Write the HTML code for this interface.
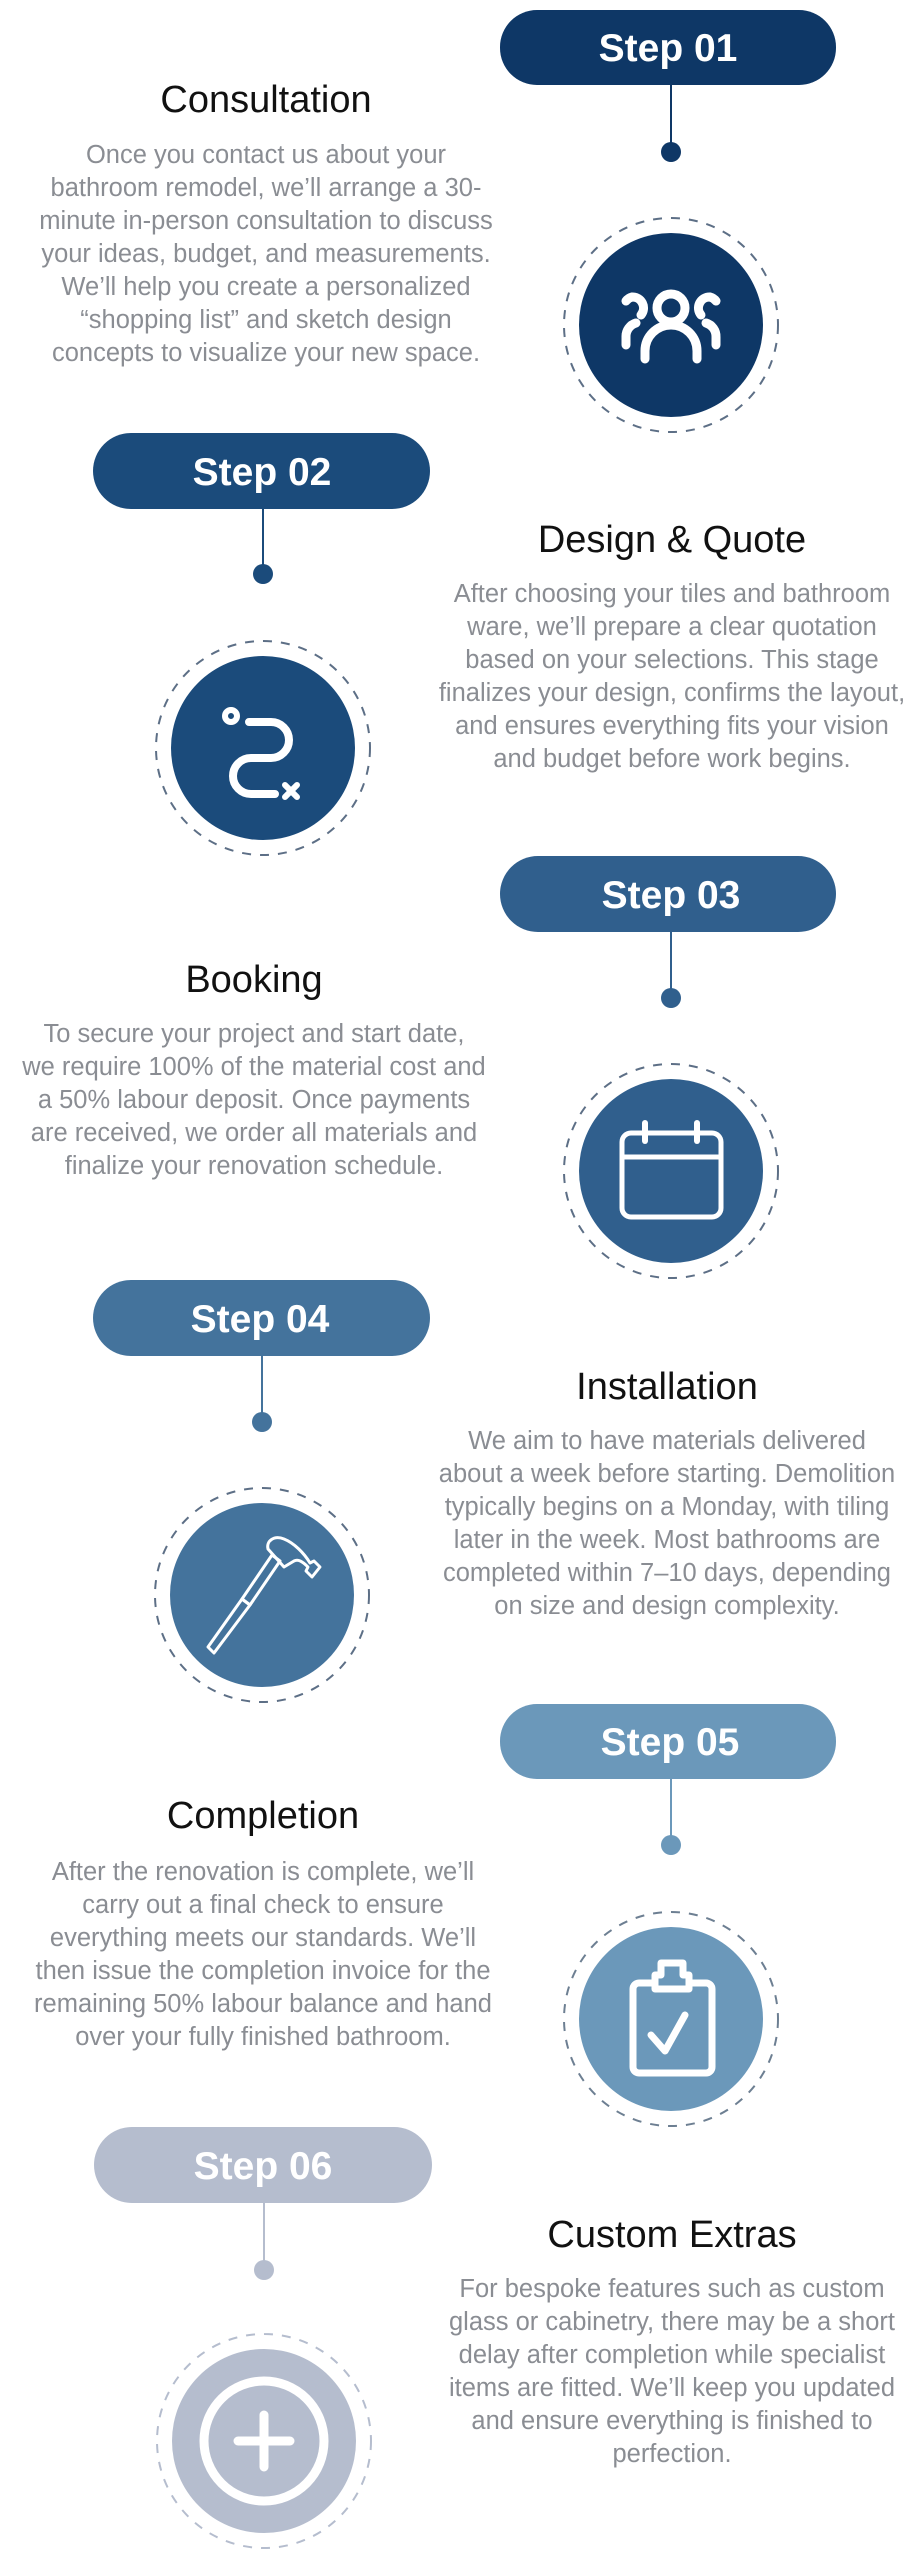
<!DOCTYPE html>
<html><head><meta charset="utf-8"><style>
html,body{margin:0;padding:0;background:#fff;}
svg{display:block;}
.t{font-family:"Liberation Sans",Arial,sans-serif;}
</style></head><body>
<svg width="913" height="2560" viewBox="0 0 913 2560" xmlns="http://www.w3.org/2000/svg" class="t">
<!-- STEP 1 -->
<g>
<rect x="500" y="10" width="336" height="75" rx="37" fill="#0e3766"/>
<text x="668" y="61" text-anchor="middle" font-weight="bold" font-size="39" fill="#fff">Step 01</text>
<line x1="671" y1="85" x2="671" y2="152" stroke="#0e3766" stroke-width="2"/>
<circle cx="671" cy="152" r="10" fill="#0e3766"/>
<circle cx="671" cy="325" r="107" fill="none" stroke="#5d6f86" stroke-width="2" stroke-dasharray="9 9"/>
<circle cx="671" cy="325" r="92" fill="#0e3766"/>
<g transform="translate(671,325)" fill="none" stroke="#fff" stroke-width="9" stroke-linecap="round">
<circle cx="0" cy="-17" r="14"/>
<path d="M-26,34 v-8 a26,26 0 0 1 52,0 v8"/>
<path d="M-30,-10 a11,11 0 0 0 -9,-18 a11,11 0 0 0 -6,4"/>
<path d="M-45,20 v-8 a14,14 0 0 1 10,-14"/>
<path d="M30,-10 a11,11 0 0 1 9,-18 a11,11 0 0 1 6,4"/>
<path d="M45,20 v-8 a14,14 0 0 0 -10,-14"/>
</g>
<text x="266" y="112" text-anchor="middle" font-size="38" fill="#111">Consultation</text>
<g font-size="25.5" fill="#8a8d93" text-anchor="middle">
<text x="266" y="163">Once you contact us about your</text>
<text x="266" y="196">bathroom remodel, we’ll arrange a 30-</text>
<text x="266" y="229">minute in-person consultation to discuss</text>
<text x="266" y="262">your ideas, budget, and measurements.</text>
<text x="266" y="295">We’ll help you create a personalized</text>
<text x="266" y="328">“shopping list” and sketch design</text>
<text x="266" y="361">concepts to visualize your new space.</text>
</g>
</g>
<!-- STEP 2 -->
<g>
<rect x="93" y="433" width="337" height="76" rx="38" fill="#1b4b7b"/>
<text x="262" y="485" text-anchor="middle" font-weight="bold" font-size="39" fill="#fff">Step 02</text>
<line x1="263" y1="509" x2="263" y2="574" stroke="#1b4b7b" stroke-width="2"/>
<circle cx="263" cy="574" r="10" fill="#1b4b7b"/>
<circle cx="263" cy="748" r="107" fill="none" stroke="#5d6f86" stroke-width="2" stroke-dasharray="9 9"/>
<circle cx="263" cy="748" r="92" fill="#1b4b7b"/>
<g transform="translate(263,748)" fill="none" stroke="#fff" stroke-width="8" stroke-linecap="round">
<circle cx="-32" cy="-32" r="6" stroke-width="6"/>
<path d="M-14,-26 h22 a18,18 0 0 1 0,36 h-20 a18,18 0 0 0 0,36 h24"/>
<path d="M22,37 l12,12 M34,37 l-12,12" stroke-width="6"/>
</g>
<text x="672" y="552" text-anchor="middle" font-size="38" fill="#111">Design &amp; Quote</text>
<g font-size="25.5" fill="#8a8d93" text-anchor="middle">
<text x="672" y="602">After choosing your tiles and bathroom</text>
<text x="672" y="635">ware, we’ll prepare a clear quotation</text>
<text x="672" y="668">based on your selections. This stage</text>
<text x="672" y="701">finalizes your design, confirms the layout,</text>
<text x="672" y="734">and ensures everything fits your vision</text>
<text x="672" y="767">and budget before work begins.</text>
</g>
</g>
<!-- STEP 3 -->
<g>
<rect x="500" y="856" width="336" height="76" rx="38" fill="#305f8d"/>
<text x="671" y="908" text-anchor="middle" font-weight="bold" font-size="39" fill="#fff">Step 03</text>
<line x1="671" y1="932" x2="671" y2="998" stroke="#305f8d" stroke-width="2"/>
<circle cx="671" cy="998" r="10" fill="#305f8d"/>
<circle cx="671" cy="1171" r="107" fill="none" stroke="#5d6f86" stroke-width="2" stroke-dasharray="9 9"/>
<circle cx="671" cy="1171" r="92" fill="#305f8d"/>
<g transform="translate(671,1171)" fill="none" stroke="#fff" stroke-width="5" stroke-linecap="round">
<rect x="-49" y="-38" width="99" height="84" rx="9"/>
<line x1="-49" y1="-14" x2="50" y2="-14"/>
<line x1="-26" y1="-48" x2="-26" y2="-30" stroke-width="6"/>
<line x1="26" y1="-48" x2="26" y2="-30" stroke-width="6"/>
</g>
<text x="254" y="992" text-anchor="middle" font-size="38" fill="#111">Booking</text>
<g font-size="25.5" fill="#8a8d93" text-anchor="middle">
<text x="254" y="1042">To secure your project and start date,</text>
<text x="254" y="1075">we require 100% of the material cost and</text>
<text x="254" y="1108">a 50% labour deposit. Once payments</text>
<text x="254" y="1141">are received, we order all materials and</text>
<text x="254" y="1174">finalize your renovation schedule.</text>
</g>
</g>
<!-- STEP 4 -->
<g>
<rect x="93" y="1280" width="337" height="76" rx="38" fill="#44739c"/>
<text x="260" y="1332" text-anchor="middle" font-weight="bold" font-size="39" fill="#fff">Step 04</text>
<line x1="262" y1="1356" x2="262" y2="1422" stroke="#44739c" stroke-width="2"/>
<circle cx="262" cy="1422" r="10" fill="#44739c"/>
<circle cx="262" cy="1595" r="107" fill="none" stroke="#5d6f86" stroke-width="2" stroke-dasharray="9 9"/>
<circle cx="262" cy="1595" r="92" fill="#44739c"/>
<g transform="translate(262,1595)" fill="none" stroke="#fff" stroke-width="3" stroke-linejoin="round">
<path d="M-48,58 l-6,-6 l34,-48 l8,6 z"/>
<path d="M-20,4 l30,-44 l8,6 l-30,44 z"/>
<path d="M6,-46 c-2,-8 6,-14 16,-10 c10,4 20,14 26,24 l4,-2 l6,6 l-8,10 l-6,-6 l2,-4 c-6,-6 -10,-8 -14,-6 l-10,6 z"/>
</g>
<text x="667" y="1399" text-anchor="middle" font-size="38" fill="#111">Installation</text>
<g font-size="25.5" fill="#8a8d93" text-anchor="middle">
<text x="667" y="1449">We aim to have materials delivered</text>
<text x="667" y="1482">about a week before starting. Demolition</text>
<text x="667" y="1515">typically begins on a Monday, with tiling</text>
<text x="667" y="1548">later in the week. Most bathrooms are</text>
<text x="667" y="1581">completed within 7–10 days, depending</text>
<text x="667" y="1614">on size and design complexity.</text>
</g>
</g>
<!-- STEP 5 -->
<g>
<rect x="500" y="1704" width="336" height="75" rx="37" fill="#6b98ba"/>
<text x="670" y="1755" text-anchor="middle" font-weight="bold" font-size="39" fill="#fff">Step 05</text>
<line x1="671" y1="1779" x2="671" y2="1845" stroke="#6b98ba" stroke-width="2"/>
<circle cx="671" cy="1845" r="10" fill="#6b98ba"/>
<circle cx="671" cy="2019" r="107" fill="none" stroke="#6d7f92" stroke-width="2" stroke-dasharray="9 9"/>
<circle cx="671" cy="2019" r="92" fill="#6b98ba"/>
<g transform="translate(671,2019)" fill="none" stroke="#fff" stroke-width="7" stroke-linecap="round" stroke-linejoin="round">
<path d="M-16,-36 h-16 a6,6 0 0 0 -6,6 v78 a6,6 0 0 0 6,6 h67 a6,6 0 0 0 6,-6 v-78 a6,6 0 0 0 -6,-6 h-16"/>
<path d="M-16,-30 v-14 h6 v-12 h22 v12 h6 v14 z"/>
<path d="M-20,16 l14,16 l20,-36"/>
</g>
<text x="263" y="1828" text-anchor="middle" font-size="38" fill="#111">Completion</text>
<g font-size="25.5" fill="#8a8d93" text-anchor="middle">
<text x="263" y="1880">After the renovation is complete, we’ll</text>
<text x="263" y="1913">carry out a final check to ensure</text>
<text x="263" y="1946">everything meets our standards. We’ll</text>
<text x="263" y="1979">then issue the completion invoice for the</text>
<text x="263" y="2012">remaining 50% labour balance and hand</text>
<text x="263" y="2045">over your fully finished bathroom.</text>
</g>
</g>
<!-- STEP 6 -->
<g>
<rect x="94" y="2127" width="338" height="76" rx="38" fill="#b5bdce"/>
<text x="263" y="2179" text-anchor="middle" font-weight="bold" font-size="39" fill="#fff">Step 06</text>
<line x1="264" y1="2203" x2="264" y2="2270" stroke="#b5bdce" stroke-width="2"/>
<circle cx="264" cy="2270" r="10" fill="#b5bdce"/>
<circle cx="264" cy="2441" r="107" fill="none" stroke="#b5bdce" stroke-width="2" stroke-dasharray="9 9"/>
<circle cx="264" cy="2441" r="92" fill="#b5bdce"/>
<g transform="translate(264,2441)" fill="none" stroke="#fff" stroke-width="9" stroke-linecap="round">
<circle cx="0" cy="0" r="60"/>
<path d="M0,-26 v52 M-26,0 h52"/>
</g>
<text x="672" y="2247" text-anchor="middle" font-size="38" fill="#111">Custom Extras</text>
<g font-size="25.5" fill="#8a8d93" text-anchor="middle">
<text x="672" y="2297">For bespoke features such as custom</text>
<text x="672" y="2330">glass or cabinetry, there may be a short</text>
<text x="672" y="2363">delay after completion while specialist</text>
<text x="672" y="2396">items are fitted. We’ll keep you updated</text>
<text x="672" y="2429">and ensure everything is finished to</text>
<text x="672" y="2462">perfection.</text>
</g>
</g>
</svg>
</body></html>
